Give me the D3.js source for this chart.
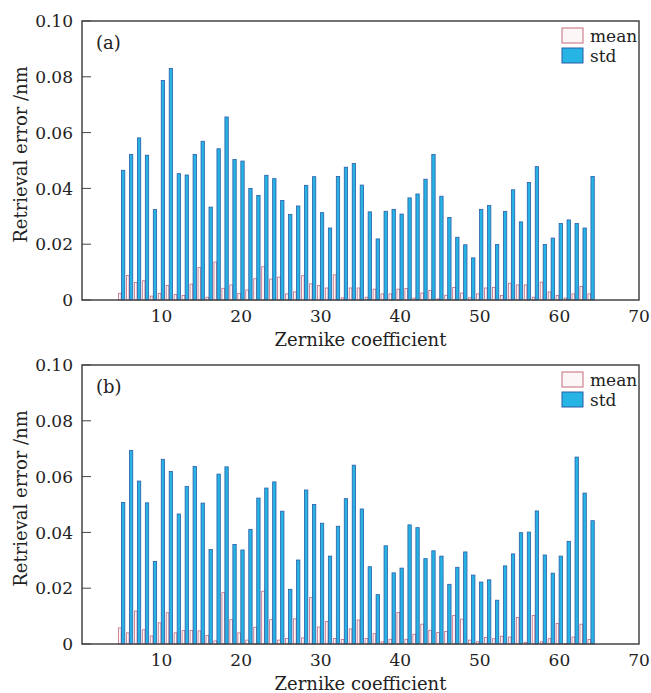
<!DOCTYPE html>
<html>
<head>
<meta charset="utf-8">
<script src="https://cdn.jsdelivr.net/npm/d3@7/dist/d3.min.js"></script>
<style>
  body { margin: 0; background: #fff; }
  text { font-family: "DejaVu Serif", "Liberation Serif", serif; fill: #222; }
</style>
</head>
<body>
<div id="chart"></div>
<script>
const coefficients = [5, 6, 7, 8, 9, 10, 11, 12, 13, 14, 15, 16, 17, 18, 19, 20, 21, 22, 23, 24,
    25, 26, 27, 28, 29, 30, 31, 32, 33, 34, 35, 36, 37, 38, 39, 40, 41, 42, 43, 44,
    45, 46, 47, 48, 49, 50, 51, 52, 53, 54, 55, 56, 57, 58, 59, 60, 61, 62, 63, 64];

// panel (a)
const meanA = [0.0024, 0.0088, 0.0063, 0.0069, 0.0014, 0.0024, 0.0052, 0.0020, 0.0016, 0.0057,
    0.0116, 0.0010, 0.0136, 0.0042, 0.0054, 0.0024, 0.0036, 0.0076, 0.0119, 0.0075,
    0.0082, 0.0022, 0.0029, 0.0087, 0.0058, 0.0052, 0.0043, 0.0090, 0.0008, 0.0043,
    0.0043, 0.0010, 0.0039, 0.0022, 0.0022, 0.0039, 0.0041, 0.0007, 0.0025, 0.0034,
    0.0004, 0.0017, 0.0045, 0.0025, 0.0008, 0.0022, 0.0043, 0.0045, 0.0016, 0.0060,
    0.0054, 0.0054, 0.0010, 0.0064, 0.0029, 0.0016, 0.0007, 0.0022, 0.0049, 0.0022];
const stdA = [0.0465, 0.0522, 0.0581, 0.0519, 0.0324, 0.0787, 0.0830, 0.0453, 0.0448, 0.0522,
    0.0569, 0.0333, 0.0542, 0.0656, 0.0504, 0.0498, 0.0400, 0.0375, 0.0447, 0.0435,
    0.0357, 0.0307, 0.0337, 0.0411, 0.0442, 0.0313, 0.0258, 0.0443, 0.0476, 0.0489,
    0.0412, 0.0316, 0.0219, 0.0318, 0.0325, 0.0308, 0.0366, 0.0380, 0.0433, 0.0522,
    0.0372, 0.0296, 0.0225, 0.0198, 0.0151, 0.0325, 0.0339, 0.0199, 0.0317, 0.0395,
    0.0280, 0.0421, 0.0478, 0.0199, 0.0222, 0.0274, 0.0287, 0.0274, 0.0258, 0.0443];

// panel (b)
const meanB = [0.0058, 0.0040, 0.0118, 0.0051, 0.0029, 0.0076, 0.0112, 0.0040, 0.0048, 0.0049,
    0.0047, 0.0031, 0.0011, 0.0184, 0.0087, 0.0040, 0.0014, 0.0060, 0.0189, 0.0087,
    0.0014, 0.0020, 0.0090, 0.0022, 0.0166, 0.0061, 0.0081, 0.0020, 0.0016, 0.0054,
    0.0086, 0.0020, 0.0037, 0.0008, 0.0017, 0.0113, 0.0017, 0.0035, 0.0071, 0.0049,
    0.0041, 0.0045, 0.0102, 0.0089, 0.0014, 0.0008, 0.0023, 0.0019, 0.0028, 0.0025,
    0.0095, 0.0006, 0.0102, 0.0008, 0.0019, 0.0074, 0.0002, 0.0025, 0.0071, 0.0016];
const stdB = [0.0507, 0.0694, 0.0584, 0.0506, 0.0296, 0.0662, 0.0618, 0.0466, 0.0565, 0.0636,
    0.0505, 0.0339, 0.0609, 0.0635, 0.0357, 0.0337, 0.0411, 0.0523, 0.0559, 0.0581,
    0.0476, 0.0196, 0.0301, 0.0552, 0.0500, 0.0433, 0.0315, 0.0422, 0.0521, 0.0641,
    0.0484, 0.0277, 0.0177, 0.0352, 0.0255, 0.0272, 0.0427, 0.0417, 0.0306, 0.0334,
    0.0315, 0.0214, 0.0275, 0.0330, 0.0247, 0.0222, 0.0230, 0.0157, 0.0280, 0.0323,
    0.0399, 0.0401, 0.0477, 0.0319, 0.0254, 0.0315, 0.0368, 0.0670, 0.0541, 0.0442];

const xTicks = [10, 20, 30, 40, 50, 60, 70];
const yTicks = [0, 0.02, 0.04, 0.06, 0.08, 0.10];
const seriesNames = ["mean", "std"];

const width = 651;
const height = 693;

const svg = d3.select("#chart")
    .append("svg")
    .attr("width", width)
    .attr("height", height);

const meanStroke = "#c66b7b";
const meanFill = "#fdf6f7";
const stdStroke = "#2b5da8";
const stdFill = "#25b4e4";

function drawPanel(top, bottom, means, stds, tag) {
    const x = d3.scaleLinear().domain([0, 70]).range([82, 639]);
    const y = d3.scaleLinear().domain([0, 0.1]).range([bottom, top]);
    const g = svg.append("g");

    // bars: mean on the left, std on the right of each coefficient
    g.selectAll(".mean")
        .data(coefficients)
        .join("rect")
        .attr("x", d => x(d - 0.42))
        .attr("width", x(0.34) - x(0))
        .attr("y", (d, i) => y(means[i]))
        .attr("height", (d, i) => y(0) - y(means[i]))
        .attr("fill", meanFill)
        .attr("stroke", meanStroke)
        .attr("stroke-width", 0.8);

    g.selectAll(".std")
        .data(coefficients)
        .join("rect")
        .attr("x", d => x(d - 0.04))
        .attr("width", x(0.42) - x(0))
        .attr("y", (d, i) => y(stds[i]))
        .attr("height", (d, i) => y(0) - y(stds[i]))
        .attr("fill", stdFill)
        .attr("stroke", stdStroke)
        .attr("stroke-width", 0.8);

    // inward ticks on the left axis
    g.selectAll(".ytick")
        .data(yTicks)
        .join("line")
        .attr("x1", x(0))
        .attr("x2", x(0) + 9)
        .attr("y1", d => y(d))
        .attr("y2", d => y(d))
        .attr("stroke", "#444")
        .attr("stroke-width", 1);

    g.selectAll(".ylab")
        .data(yTicks)
        .join("text")
        .attr("x", x(0) - 9)
        .attr("y", d => y(d))
        .attr("dy", "0.36em")
        .attr("text-anchor", "end")
        .attr("font-size", 17)
        .text(d => d === 0 ? "0" : d3.format(".2f")(d));

    g.selectAll(".xlab")
        .data(xTicks)
        .join("text")
        .attr("x", d => x(d))
        .attr("y", bottom + 16)
        .attr("dy", "0.36em")
        .attr("text-anchor", "middle")
        .attr("font-size", 17)
        .text(d => d);

    // frame
    g.append("rect")
        .attr("x", x(0))
        .attr("y", top)
        .attr("width", x(70) - x(0))
        .attr("height", bottom - top)
        .attr("fill", "none")
        .attr("stroke", "#444")
        .attr("stroke-width", 1.5);

    g.append("text")
        .attr("x", (x(0) + x(70)) / 2)
        .attr("y", bottom + 40)
        .attr("dy", "0.36em")
        .attr("text-anchor", "middle")
        .attr("font-size", 18)
        .text("Zernike coefficient");

    g.append("text")
        .attr("transform", `translate(21,${(top + bottom) / 2 - 6}) rotate(-90)`)
        .attr("dy", "0.36em")
        .attr("text-anchor", "middle")
        .attr("font-size", 18)
        .text("Retrieval error /nm");

    g.append("text")
        .attr("x", 96)
        .attr("y", top + 28)
        .attr("font-size", 18)
        .text(tag);

    // legend
    const leg = g.selectAll(".leg")
        .data(seriesNames)
        .join("g")
        .attr("transform", (d, i) => `translate(562,${top + 7 + i * 20})`);
    leg.append("rect")
        .attr("width", 21)
        .attr("height", 15)
        .attr("fill", (d, i) => i === 0 ? meanFill : stdFill)
        .attr("stroke", (d, i) => i === 0 ? meanStroke : stdStroke)
        .attr("stroke-width", 1);
    leg.append("text")
        .attr("x", 28)
        .attr("y", 8)
        .attr("dy", "0.36em")
        .attr("font-size", 17)
        .text(d => d);
}

drawPanel(21, 300, meanA, stdA, "(a)");
drawPanel(365, 644, meanB, stdB, "(b)");
</script>
</body>
</html>
